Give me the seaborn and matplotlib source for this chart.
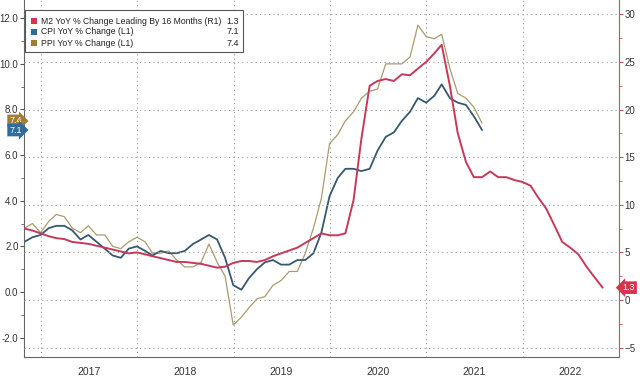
import pandas as pd
import seaborn as sns
import matplotlib.pyplot as plt
import matplotlib.dates as mdates
import matplotlib.transforms as mtransforms
from matplotlib.patches import Rectangle

# M2 YoY % change, monthly from Oct 2016 (right axis)
m2_yoy = [7.5, 7.3, 7.0, 6.7, 6.5, 6.4, 6.1, 6.0, 5.9, 5.7, 5.5, 5.3,
          5.1, 4.9, 5.0, 4.8, 4.6, 4.4, 4.2, 4.0, 4.0, 3.9, 3.8, 3.6,
          3.4, 3.5, 3.9, 4.1, 4.1, 4.0, 4.2, 4.6, 4.9, 5.2, 5.5, 6.0,
          6.5, 7.0, 6.8, 6.8, 7.0, 10.5, 17.0, 22.5, 23.0, 23.2, 23.0, 23.7,
          23.6, 24.3, 25.0, 25.9, 26.8, 22.5, 17.5, 14.5, 12.9, 12.9, 13.5, 12.9,
          12.9, 12.6, 12.4, 12.0, 10.8, 9.6, 7.9, 6.1, 5.5, 4.8, 3.5, 2.4, 1.3]

# CPI / PPI YoY % change (left axis), same monthly grid, from Oct 2016
cpi_yoy = [2.2, 2.4, 2.5, 2.8, 2.9, 2.9, 2.7, 2.3, 2.5, 2.2, 1.9,
           1.6, 1.5, 1.9, 2.0, 1.8, 1.6, 1.8, 1.7, 1.7, 1.8, 2.1, 2.3,
           2.5, 2.3, 1.5, 0.3, 0.1, 0.6, 1.0, 1.3, 1.4, 1.2, 1.2, 1.4,
           1.4, 1.7, 2.6, 4.2, 5.0, 5.4, 5.4, 5.3, 5.4, 6.2, 6.8, 7.0,
           7.5, 7.9, 8.5, 8.3, 8.6, 9.1, 8.5, 8.3, 8.2, 7.7, 7.1]
ppi_yoy = [2.8, 3.0, 2.6, 3.1, 3.4, 3.3, 2.8, 2.6, 2.9, 2.5, 2.5,
           2.0, 1.9, 2.2, 2.4, 2.2, 1.7, 1.7, 1.8, 1.4, 1.1, 1.1, 1.3,
           2.1, 1.3, 0.7, -1.45, -1.1, -0.7, -0.3, -0.2, 0.3, 0.5, 0.9, 0.9,
           1.7, 2.8, 4.1, 6.5, 6.9, 7.5, 7.9, 8.5, 8.8, 8.9, 10.0, 10.0,
           10.0, 10.3, 11.7, 11.2, 11.1, 11.3, 9.8, 8.7, 8.5, 8.1, 7.4]

nombres = ['M2 YoY % Change Leading By 16 Months (R1)',
           'CPI YoY % Change (L1)',
           'PPI YoY % Change (L1)']
ultimos = ['1.3', '7.1', '7.4']
colores_leyenda = ['#d7334f', '#2e6b9e', '#a27b36']
colores_linea = ['#c8385a', '#35596f', '#a89c6e']

df_m2 = pd.DataFrame({'fecha': pd.date_range('2016-10-31', periods=len(m2_yoy), freq='ME'),
                      'valor': m2_yoy})
df_cpi = pd.DataFrame({'fecha': pd.date_range('2016-10-31', periods=len(cpi_yoy), freq='ME'),
                       'valor': cpi_yoy})
df_ppi = pd.DataFrame({'fecha': pd.date_range('2016-10-31', periods=len(ppi_yoy), freq='ME'),
                       'valor': ppi_yoy})

sns.set_style('white')
plt.rcParams['font.family'] = ['Liberation Sans', 'DejaVu Sans']

fig = plt.figure(figsize=(6.4, 3.79), dpi=100)
ax = fig.add_axes([24 / 640, 22 / 379, 595 / 640, 357 / 379])
ax2 = ax.twinx()

sns.lineplot(data=df_ppi, x='fecha', y='valor', ax=ax, color=colores_linea[2], lw=0.9)
sns.lineplot(data=df_cpi, x='fecha', y='valor', ax=ax, color=colores_linea[1], lw=1.3)
sns.lineplot(data=df_m2, x='fecha', y='valor', ax=ax2, color=colores_linea[0], lw=1.4)

ax.set_xlim(pd.Timestamp('2016-10-29'), pd.Timestamp('2023-01-01'))
ax.set_ylim(-2.85, 12.8)
ax2.set_ylim(-5.98, 31.5)
ax.set_xlabel('')
ax.set_ylabel('')
ax2.set_ylabel('')

# eje izquierdo
ax.set_yticks(range(-2, 13, 2))
ax.set_yticklabels([f'{v:.1f}' for v in range(-2, 13, 2)])
ax.set_yticks(range(-1, 13, 2), minor=True)
ax.tick_params(axis='y', which='major', length=3, width=0.8, direction='out',
               labelsize=7, colors='#555555', labelcolor='#333333', pad=1)
ax.tick_params(axis='y', which='minor', length=2, width=0.6, direction='out', colors='#555555')

# eje derecho
ax2.set_yticks(range(-5, 31, 5))
ax2.set_yticks([v + 2.5 for v in range(-5, 30, 5)], minor=True)
ax2.tick_params(axis='y', which='major', length=3, width=0.8, direction='out',
                labelsize=7, colors='#d04a66', labelcolor='#333333', pad=1)
ax2.tick_params(axis='y', which='minor', length=2, width=0.6, direction='out', colors='#d04a66')

# eje x: años
ax.xaxis.set_major_locator(mdates.YearLocator())
ax.xaxis.set_major_formatter(plt.NullFormatter())
ax.xaxis.set_minor_locator(mdates.MonthLocator(bymonth=7))
ax.xaxis.set_minor_formatter(mdates.DateFormatter('%Y'))
ax.tick_params(axis='x', which='major', length=22, width=0.8, colors='#666666')
ax.tick_params(axis='x', which='minor', length=0, labelsize=7.5, labelcolor='#333333', pad=7)

for a in (ax, ax2):
    a.spines['top'].set_visible(False)
ax.spines['left'].set_color('#666666')
ax.spines['bottom'].set_color('#666666')
ax2.spines['left'].set_visible(False)
ax2.spines['bottom'].set_visible(False)
ax2.spines['right'].set_color('#d04a66')
ax.spines['right'].set_visible(False)

ax.grid(axis='x', which='major', ls=(0, (1, 3)), color='#9a9a9a', lw=0.8)
ax2.grid(axis='y', which='major', ls=(0, (1, 3)), color='#9a9a9a', lw=0.8)
ax2.set_axisbelow(True)

# etiquetas de último valor
tr_l = mtransforms.blended_transform_factory(ax.transAxes, ax.transData)
ax.text(-0.004, 7.5, ultimos[2], transform=tr_l, ha='right', va='center', fontsize=6.5,
        color='white', clip_on=False,
        bbox=dict(boxstyle='rarrow,pad=0.2', fc=colores_leyenda[2], ec='none'))
ax.text(-0.004, 7.1, ultimos[1], transform=tr_l, ha='right', va='center', fontsize=6.5,
        color='white', clip_on=False,
        bbox=dict(boxstyle='rarrow,pad=0.2', fc=colores_leyenda[1], ec='none'))
tr_r = mtransforms.blended_transform_factory(ax2.transAxes, ax2.transData)
ax2.text(1.006, 1.3, ultimos[0], transform=tr_r, ha='left', va='center', fontsize=6.5,
         color='white', clip_on=False,
         bbox=dict(boxstyle='larrow,pad=0.2', fc=colores_leyenda[0], ec='none'))

# leyenda a mano (posiciones en pixeles de la figura)
def px(x, y):
    return x / 640, 1 - y / 379

x0, y0 = px(25, 52)
x1, y1 = px(243, 10)
fig.patches.append(Rectangle((x0, y0), x1 - x0, y1 - y0, transform=fig.transFigure,
                             fc='white', ec='#555555', lw=0.8, zorder=10))
for i, (nombre, valor, c) in enumerate(zip(nombres, ultimos, colores_leyenda)):
    yy = 21 + i * 11
    sx, sy = px(31, yy + 3)
    fig.patches.append(Rectangle((sx, sy), 6 / 640, 6 / 379, transform=fig.transFigure,
                                 fc=c, ec='none', zorder=11))
    tx, ty = px(41, yy)
    fig.text(tx, ty, nombre, ha='left', va='center', fontsize=6.2, color='#222222', zorder=12)
    vx, vy = px(239, yy)
    fig.text(vx, vy, valor, ha='right', va='center', fontsize=6.5, color='#222222', zorder=12)

plt.savefig('out.png', dpi=100)
